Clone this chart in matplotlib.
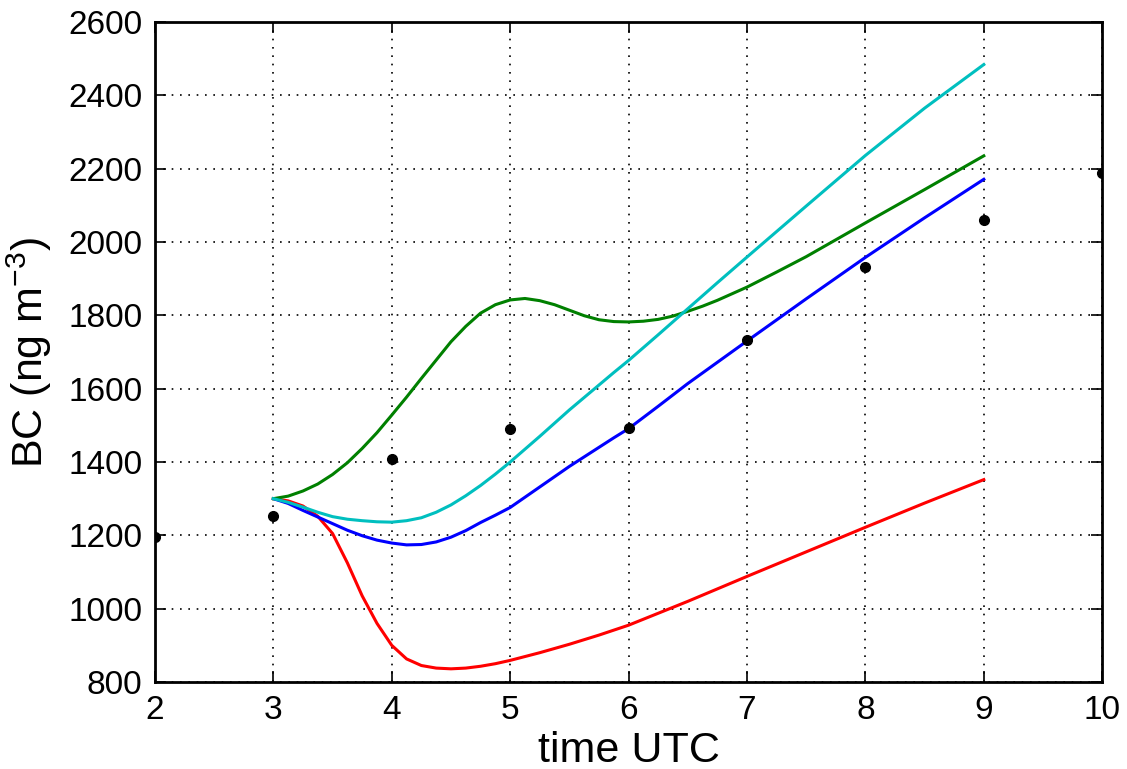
import matplotlib
matplotlib.use("Agg")
import matplotlib.pyplot as plt

plt.rcParams['font.family'] = ['Liberation Sans', 'DejaVu Sans']
plt.rcParams['mathtext.default'] = 'regular'

# Observations (black dots)
obs_t = [2, 3, 4, 5, 6, 7, 8, 9, 10]
obs_bc = [1195, 1253, 1407, 1490, 1492, 1732, 1931, 2061, 2188]

# Model runs
green_t = [3.0, 3.125, 3.25, 3.375, 3.5, 3.625, 3.75, 3.875, 4.0, 4.125, 4.25, 4.375,
           4.5, 4.625, 4.75, 4.875, 5.0, 5.125, 5.25, 5.375, 5.5, 5.625, 5.75, 5.875,
           6.0, 6.125, 6.25, 6.375, 6.5, 6.625, 6.75, 6.875, 7.0, 7.25, 7.5, 7.75,
           8.0, 8.5, 9.0]
green_bc = [1300, 1307, 1321, 1340, 1366, 1398, 1437, 1480, 1528, 1577, 1628, 1678,
            1728, 1770, 1806, 1829, 1842, 1846, 1840, 1829, 1814, 1799, 1788, 1783,
            1782, 1784, 1789, 1798, 1811, 1825, 1841, 1859, 1877, 1918, 1960, 2006,
            2052, 2143, 2235]

cyan_t = [3.0, 3.125, 3.25, 3.375, 3.5, 3.625, 3.75, 3.875, 4.0, 4.125, 4.25, 4.375,
          4.5, 4.625, 4.75, 4.875, 5.0, 5.125, 5.25, 5.375, 5.5, 5.625, 5.75, 5.875,
          6.0, 6.25, 6.5, 6.75, 7.0, 7.5, 8.0, 8.5, 9.0]
cyan_bc = [1300, 1290, 1277, 1263, 1251, 1244, 1240, 1237, 1236, 1240, 1248, 1263,
           1283, 1308, 1336, 1367, 1400, 1435, 1470, 1506, 1542, 1576, 1610, 1644,
           1677, 1747, 1818, 1889, 1959, 2098, 2236, 2365, 2484]

blue_t = [3.0, 3.125, 3.25, 3.375, 3.5, 3.625, 3.75, 3.875, 4.0, 4.125, 4.25, 4.375,
          4.5, 4.625, 4.75, 4.875, 5.0, 5.125, 5.25, 5.375, 5.5, 5.625, 5.75, 5.875,
          6.0, 6.25, 6.5, 6.75, 7.0, 7.5, 8.0, 8.5, 9.0]
blue_bc = [1300, 1287, 1268, 1250, 1232, 1214, 1199, 1187, 1179, 1174, 1175, 1182,
           1195, 1213, 1235, 1255, 1276, 1304, 1332, 1360, 1388, 1414, 1440, 1466,
           1491, 1552, 1614, 1672, 1730, 1845, 1958, 2066, 2171]

red_t = [3.0, 3.125, 3.25, 3.375, 3.5, 3.625, 3.75, 3.875, 4.0, 4.125, 4.25, 4.375,
         4.5, 4.625, 4.75, 4.875, 5.0, 5.25, 5.5, 5.75, 6.0, 6.5, 7.0, 7.5, 8.0,
         8.5, 9.0]
red_bc = [1300, 1294, 1280, 1252, 1205, 1125, 1035, 960, 900, 863, 845, 838,
          836, 838, 843, 850, 859, 880, 903, 928, 955, 1020, 1088, 1155, 1222,
          1288, 1352]

x_ticks = [2, 3, 4, 5, 6, 7, 8, 9, 10]
y_ticks = [800, 1000, 1200, 1400, 1600, 1800, 2000, 2200, 2400, 2600]

fig = plt.figure(figsize=(11.27, 7.69), dpi=100)
ax = fig.add_axes([0.1375, 0.1131, 0.9780 - 0.1375, 0.9714 - 0.1131])

ax.plot(red_t, red_bc, color='#ff0000', lw=2.2)
ax.plot(blue_t, blue_bc, color='#0000ff', lw=2.2)
ax.plot(green_t, green_bc, color='#008000', lw=2.2)
ax.plot(cyan_t, cyan_bc, color='#00bfbf', lw=2.2)
ax.plot(obs_t, obs_bc, 'o', color='black', ms=7, zorder=5)

ax.set_xlim(2, 10)
ax.set_ylim(800, 2600)
ax.set_xticks(x_ticks)
ax.set_yticks(y_ticks)
ax.grid(True, color='black', linestyle=':', linewidth=1.2, dashes=(1, 4))
ax.set_axisbelow(True)
ax.tick_params(direction='in', length=8, width=1.2, labelsize=24, pad=9,
               top=True, right=True)
for s in ax.spines.values():
    s.set_linewidth(2)

ax.set_xlabel('time UTC', fontsize=31, labelpad=4)
ax.set_ylabel('BC (ng m$^{-3}$)', fontsize=31, labelpad=10)

fig.savefig('out.png', dpi=100)
